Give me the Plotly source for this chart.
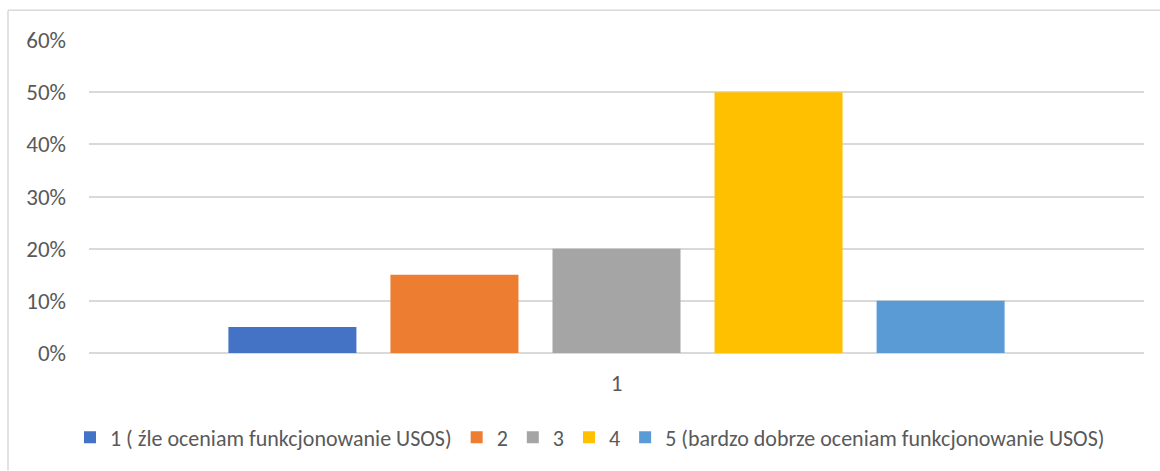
import plotly.graph_objects as go

categories = ["1"]
series_names = [
    "1 ( źle oceniam funkcjonowanie USOS)",
    "2",
    "3",
    "4",
    "5 (bardzo dobrze oceniam funkcjonowanie USOS)",
]
series_values = [0.05, 0.15, 0.20, 0.50, 0.10]
series_colors = ["#4472C4", "#ED7D31", "#A5A5A5", "#FFC000", "#5B9BD5"]
tick_values = [0, 0.1, 0.2, 0.3, 0.4, 0.5, 0.6]
tick_labels = ["0%", "10%", "20%", "30%", "40%", "50%", "60%"]

FONT = "Carlito, Lato, sans-serif"
TEXT = "#595959"
FS = 22
TICK_FS = 23

fig = go.Figure()
for name, val, col in zip(series_names, series_values, series_colors):
    fig.add_trace(go.Bar(x=categories, y=[val], name=name, marker_color=col,
                         marker_line_width=0))

W, H = 1160, 471
L, R, T, B = 89, 16, 40, 116
pw, ph = W - L - R, H - T - B

def px_to_paper_x(px):
    return (px - L) / pw

def px_to_paper_y(py):
    return (H - B - py) / ph

fig.update_layout(
    width=W, height=H,
    margin=dict(l=L, r=R, t=T, b=B),
    paper_bgcolor="white", plot_bgcolor="white",
    barmode="group", bargap=0.232, bargroupgap=0.21,
    font=dict(family=FONT, size=FS, color=TEXT),
    showlegend=True,
    legend=dict(orientation="h", x=px_to_paper_x(590), xanchor="center",
                y=px_to_paper_y(440), yanchor="middle",
                font=dict(family=FONT, size=FS, color=TEXT),
                itemwidth=30, traceorder="normal", tracegroupgap=0),
    xaxis=dict(range=[-0.5, 0.5], showgrid=False, showline=False, zeroline=False,
               ticks="", tickfont=dict(size=TICK_FS, color=TEXT), ticklabelstandoff=14),
    yaxis=dict(range=[0, 0.6], tickvals=tick_values, ticktext=tick_labels,
               showgrid=True, gridcolor="#D9D9D9", gridwidth=1.5,
               zeroline=True, zerolinecolor="#D9D9D9", zerolinewidth=1.5,
               showline=False, ticks="", ticklabelstandoff=22,
               tickfont=dict(size=TICK_FS, color=TEXT)),
    shapes=[
        dict(type="line", xref="paper", yref="paper",
             x0=px_to_paper_x(8), x1=px_to_paper_x(1162),
             y0=px_to_paper_y(10), y1=px_to_paper_y(10),
             line=dict(color="#D9D9D9", width=1.5)),
        dict(type="line", xref="paper", yref="paper",
             x0=px_to_paper_x(8), x1=px_to_paper_x(8),
             y0=px_to_paper_y(10), y1=px_to_paper_y(473),
             line=dict(color="#D9D9D9", width=1.5)),
    ],
)

fig.write_html("out.html")
